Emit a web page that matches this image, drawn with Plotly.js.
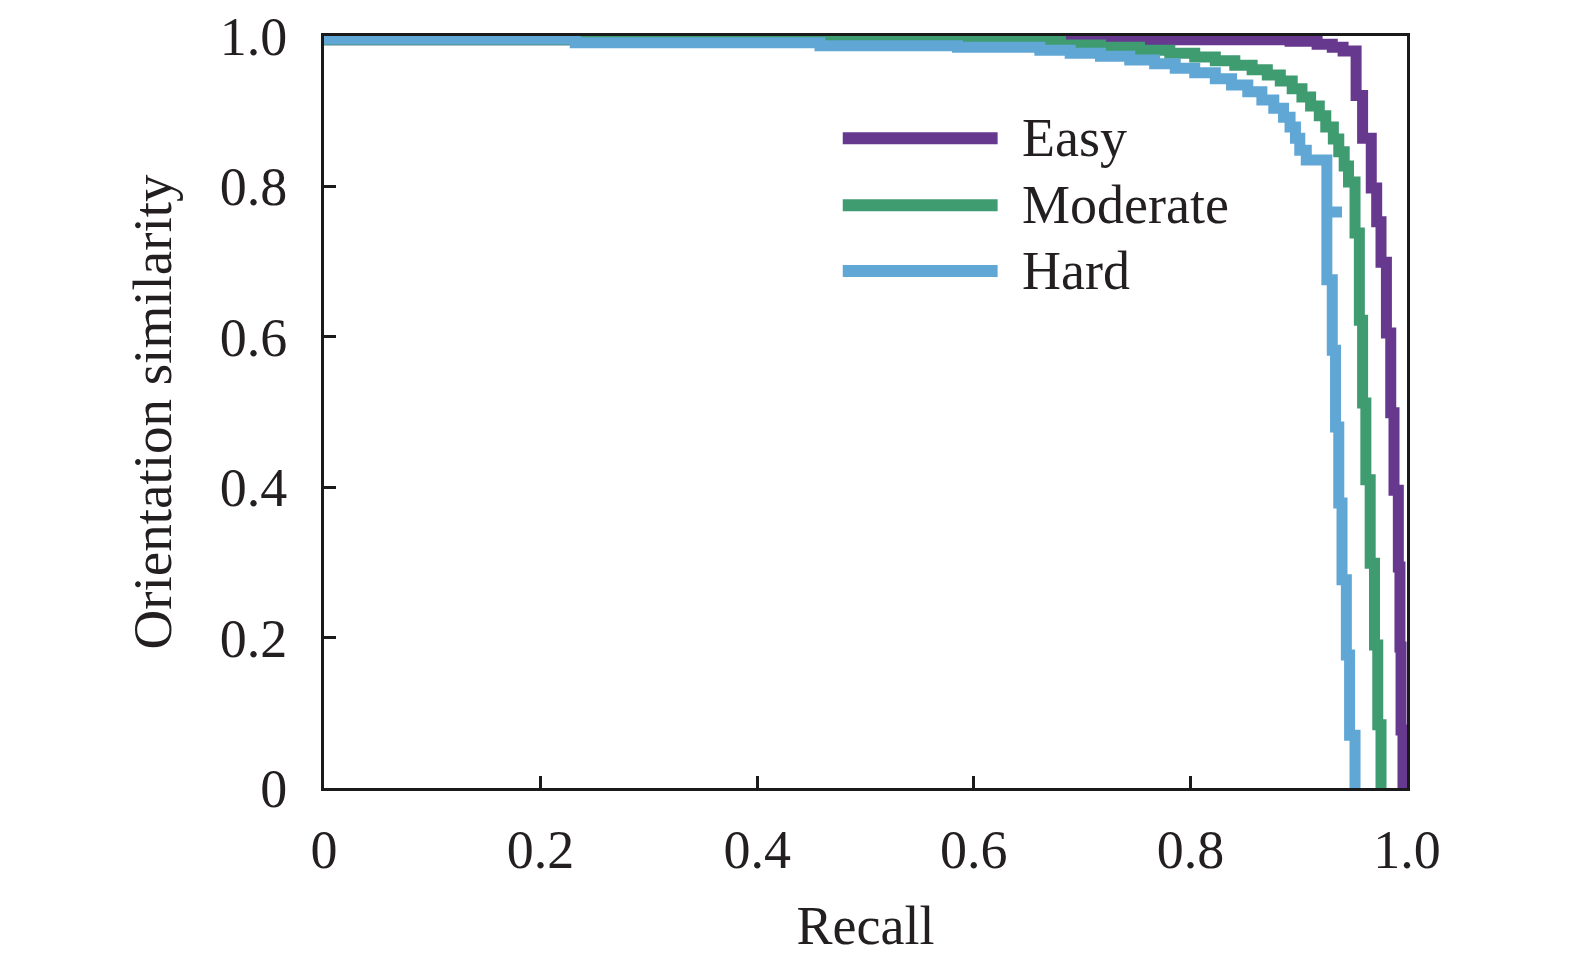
<!DOCTYPE html>
<html>
<head>
<meta charset="utf-8">
<script src="https://cdn.plot.ly/plotly-3.0.1.min.js"></script>
<style>html,body{margin:0;padding:0;background:#fff;}#chart{width:1575px;height:967px;}</style>
</head>
<body>
<div id="chart"></div>
<script>
// Series names
var seriesNames = ["Easy", "Moderate", "Hard"];
var seriesColors = ["#66398f", "#3f9b70", "#60a7d5"];

// Easy (step curve, horizontal-then-vertical)
var easyRecall = [0, 0.892, 0.917, 0.931, 0.941, 0.953, 0.959, 0.967, 0.972, 0.976, 0.981, 0.985, 0.988, 0.992, 0.9935, 0.9945, 0.9963];
var easySim    = [0.995, 0.993, 0.989, 0.985, 0.980, 0.921, 0.864, 0.798, 0.753, 0.699, 0.605, 0.499, 0.396, 0.294, 0.1875, 0.077, 0];

// Moderate
var modRecall = [0, 0.680, 0.717, 0.753, 0.781, 0.804, 0.823, 0.841, 0.857, 0.871, 0.883, 0.894, 0.903, 0.911, 0.919, 0.925, 0.932, 0.937, 0.942, 0.946, 0.952, 0.956, 0.959, 0.962, 0.966, 0.970, 0.973, 0.976];
var modSim    = [0.995, 0.988, 0.985, 0.981, 0.977, 0.972, 0.967, 0.961, 0.955, 0.948, 0.940, 0.930, 0.919, 0.907, 0.894, 0.879, 0.863, 0.846, 0.827, 0.806, 0.738, 0.622, 0.512, 0.410, 0.299, 0.190, 0.084, 0];

// Hard
var hardRecall = [0, 0.232, 0.458, 0.585, 0.661, 0.689, 0.717, 0.744, 0.767, 0.786, 0.804, 0.823, 0.838, 0.853, 0.866, 0.877, 0.886, 0.892, 0.897, 0.901, 0.907, 0.926, 0.940, 0.926, 0.931, 0.934, 0.937, 0.940, 0.944, 0.947, 0.952];
var hardSim    = [0.996, 0.991, 0.987, 0.985, 0.981, 0.977, 0.973, 0.968, 0.963, 0.957, 0.951, 0.943, 0.935, 0.926, 0.915, 0.904, 0.892, 0.879, 0.864, 0.848, 0.835, 0.766, 0.766, 0.676, 0.582, 0.480, 0.379, 0.277, 0.177, 0.070, 0];

// Axis ticks
var tickVals = [0, 0.2, 0.4, 0.6, 0.8, 1.0];
var tickText = ["0", "0.2", "0.4", "0.6", "0.8", "1.0"];

var FONT = "Liberation Serif, Times New Roman, serif";
var FS = 54;
var TXT = "#231f20";

var xs = [easyRecall, modRecall, hardRecall];
var ys = [easySim, modSim, hardSim];

var traces = xs.map(function (x, i) {
  return {
    x: x, y: ys[i], type: "scatter", mode: "lines",
    name: seriesNames[i],
    line: {color: seriesColors[i], width: 11, shape: "hv"},
    showlegend: false, hoverinfo: "skip"
  };
});

// Manual legend (long line samples)
var legendY = [0.864, 0.775, 0.6875];
var shapes = [];
var annotations = [];
seriesNames.forEach(function (n, i) {
  shapes.push({type: "line", xref: "paper", yref: "paper",
    x0: 0.479, x1: 0.622, y0: legendY[i], y1: legendY[i],
    line: {color: seriesColors[i], width: 12}});
  annotations.push({xref: "paper", yref: "paper", x: 0.643, y: legendY[i],
    xanchor: "left", yanchor: "middle", showarrow: false, text: n,
    font: {family: FONT, size: FS, color: TXT}});
});

var axisCommon = {
  range: [0, 1], autorange: false,
  showgrid: false, zeroline: false,
  showline: true, mirror: true, linecolor: "#1a1a1a", linewidth: 3,
  ticks: "inside", ticklen: 12, tickwidth: 3, tickcolor: "#1a1a1a",
  tickvals: tickVals, ticktext: tickText,
  tickfont: {family: FONT, size: FS, color: TXT}
};

var layout = {
  width: 1575, height: 967,
  margin: {l: 324, r: 168, t: 36, b: 179, pad: 0},
  paper_bgcolor: "#ffffff", plot_bgcolor: "#ffffff",
  showlegend: false,
  xaxis: Object.assign({}, axisCommon, {
    ticklabelstandoff: 12,
    title: {text: "Recall", font: {family: FONT, size: FS, color: TXT}, standoff: 28}
  }),
  yaxis: Object.assign({}, axisCommon, {
    ticklabelstandoff: 23,
    title: {text: "Orientation similarity", font: {family: FONT, size: 55, color: TXT}, standoff: 31}
  }),
  shapes: shapes,
  annotations: annotations
};

Plotly.newPlot("chart", traces, layout, {staticPlot: true, displayModeBar: false});
</script>
</body>
</html>
